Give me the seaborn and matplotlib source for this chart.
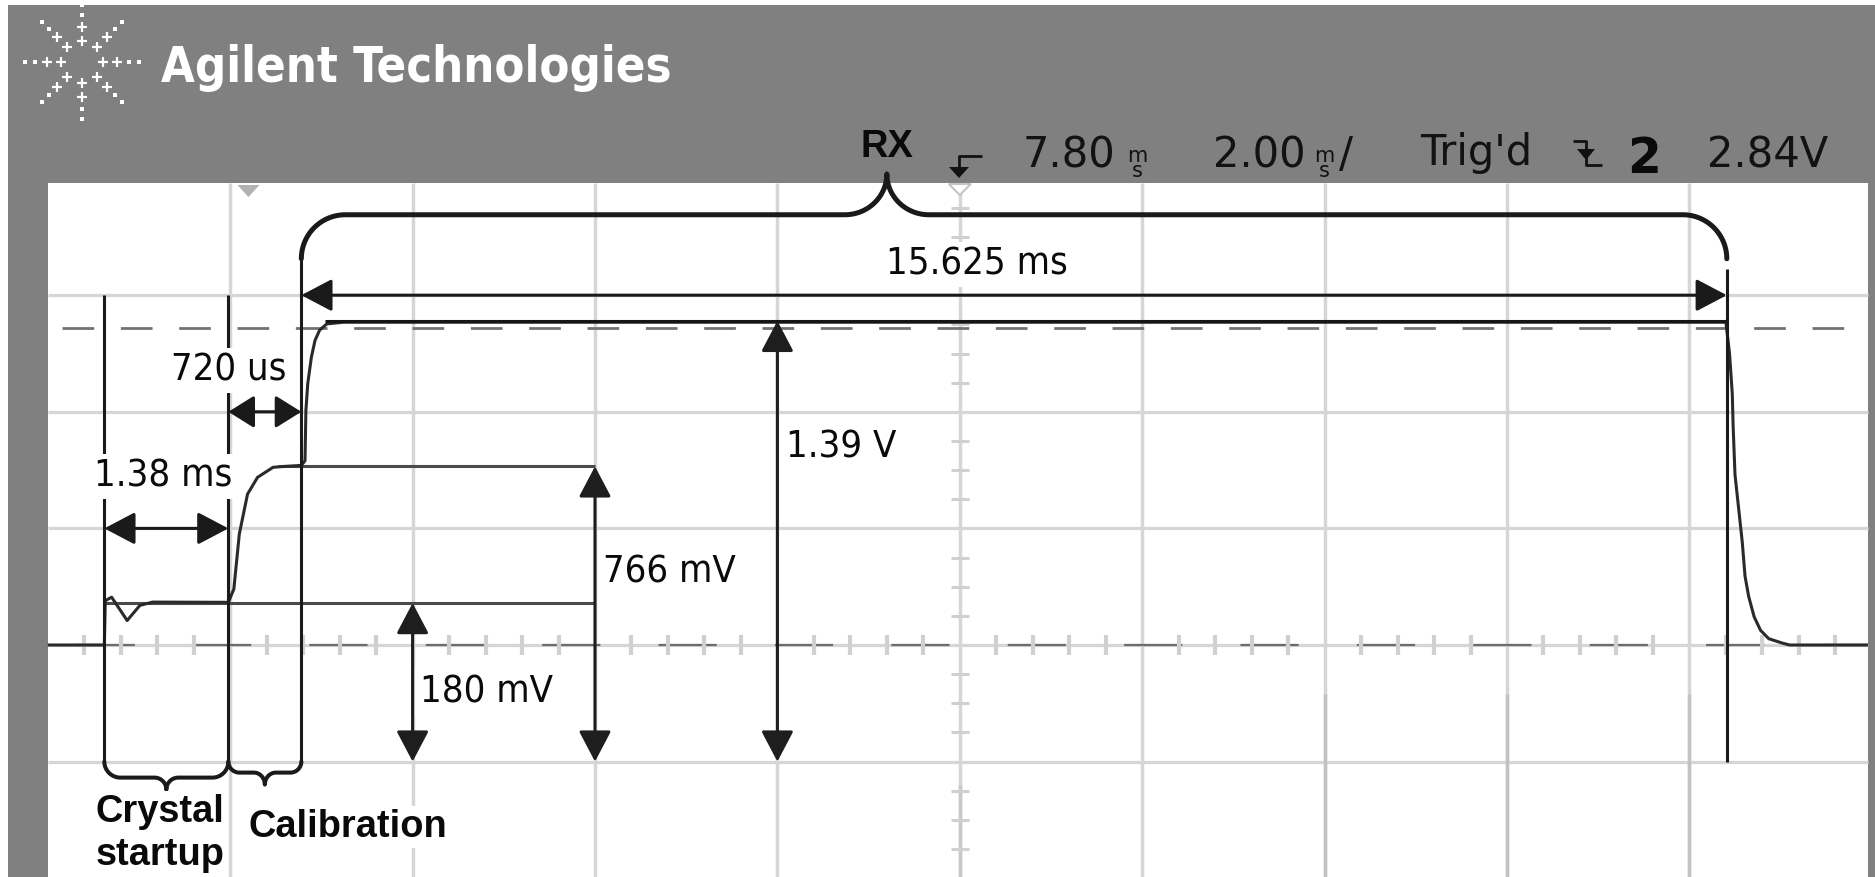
import numpy as np
import pandas as pd
import matplotlib
matplotlib.use("Agg")
import matplotlib.pyplot as plt
import seaborn as sns
from matplotlib import font_manager as fm
from matplotlib.patches import FancyArrowPatch, Rectangle, Polygon
from matplotlib.transforms import Affine2D
from matplotlib.textpath import TextPath

sns.set_theme(style="white")
plt.rcParams["font.family"] = ["DejaVu Sans"]
plt.rcParams["lines.scale_dashes"] = False
plt.rcParams["lines.solid_capstyle"] = "butt"

# ------------------------------------------------------------------ data
# oscilloscope trace (time in ms, volts)
trace_t = [0.00, 0.62, 0.63, 0.70, 0.87, 1.01, 1.15, 1.98, 2.04, 2.10,
           2.19, 2.30, 2.47, 2.60, 2.78, 2.82, 2.83, 2.85, 2.89, 2.93,
           2.98, 3.06, 3.24, 18.40, 18.44, 18.47, 18.48, 18.50, 18.54, 18.58,
           18.61, 18.65, 18.71, 18.78, 18.87, 19.02, 19.10, 19.96]
trace_v = [0.00, 0.00, 0.19, 0.205, 0.105, 0.17, 0.184, 0.183, 0.24, 0.476,
           0.647, 0.719, 0.762, 0.766, 0.77, 0.79, 1.005, 1.12, 1.234, 1.306,
           1.35, 1.377, 1.384, 1.384, 1.25, 1.078, 0.933, 0.730, 0.585, 0.440,
           0.295, 0.208, 0.121, 0.063, 0.027, 0.008, 0.0, 0.0]

# phase markers (ms): crystal on, calibration start, RX start, RX end
marker_t = [0.62, 1.98, 2.78, 18.41]
span_labels = ["1.38 ms", "720 us", "15.625 ms"]
span_levels = [0.5, 1.0, 1.5]

# signal levels (V)
level_v = [0.18, 0.766, 1.39]
level_labels = ["180 mV", "766 mV", "1.39 V"]
level_arrow_t = [4.0, 6.0, 8.0]
level_start_t = [0.62, 2.52, 3.04]
level_end_t = [6.0, 6.0, 18.41]
arrow_base_v = -0.5
ref_dash_v = 1.36

phase_labels = ["Crystal\nstartup", "Calibration", "RX"]

# scope settings
time_per_div = 2.0      # ms/div
volt_per_div = 0.5      # V/div
n_xdiv = 10
trig_marker_t = 2.2
hdr_delay = "7.80"
hdr_timebase = "2.00"
hdr_state = "Trig'd"
hdr_channel = "2"
hdr_level = "2.84V"
brand = "Agilent Technologies"

# ------------------------------------------------------------------ fonts
def wnum(w):
    if isinstance(w, str):
        return fm.weight_dict.get(w, 400)
    return int(w)


PREF = ["Liberation Sans Narrow", "DejaVu Sans", "Noto Sans", "Open Sans",
        "Roboto", "Lato", "Inter"]


def find_condensed(bold):
    best, best_score = None, 1e9
    for f in fm.fontManager.ttflist:
        nm = f.name
        if any(s in nm for s in ("Mono", "Serif", "CJK", "Math")):
            continue
        cond = (str(f.stretch) in ("condensed", "semi-condensed", "extra-condensed",
                                   "ultra-condensed")
                or "Narrow" in nm or "Condensed" in nm)
        if not cond or f.style != "normal":
            continue
        w = wnum(f.weight)
        if bold and not (600 <= w <= 800):
            continue
        if not bold and not (350 <= w <= 500):
            continue
        score = next((i for i, p in enumerate(PREF) if nm.startswith(p)), 50)
        if "semi" in str(f.stretch):
            score += 0.5
        if score < best_score:
            best, best_score = f, score
    if best is None:
        return fm.FontProperties(family="Liberation Sans",
                                 weight="bold" if bold else "normal")
    return fm.FontProperties(fname=best.fname)


FP_REG = find_condensed(False)
FP_BOLDC = find_condensed(True)


def fit_size(text, fp, w_px, cap_px):
    ext = TextPath((0, 0), text, size=100, prop=fp).get_extents()
    capx = TextPath((0, 0), "H", size=100, prop=fp).get_extents()
    k = 100 / 72.0 / 100.0          # px per (unit at size 1 pt)
    s_w = w_px / (ext.width * k)
    s_h = cap_px / (capx.height * k)
    return min(s_w, s_h)


lab_size = fit_size("15.625 ms", FP_REG, 176, 33)
brand_size = fit_size(brand, FP_BOLDC, 509, 42)
BOLD = "Liberation Sans"
HDR = "DejaVu Sans"

# ------------------------------------------------------------------ figure
W, H = 1875, 877
fig = plt.figure(figsize=(W / 100, H / 100), dpi=100)
fig.patch.set_facecolor("#808080")
ax = fig.add_axes([0, 0, 1, 1])
ax.set_axis_off()

px_per_ms = 91.2
px_per_v = 233.2
X0 = -47.8 / px_per_ms
X1 = X0 + W / px_per_ms
Y0 = -(H - 645.0) / px_per_v
Y1 = Y0 + H / px_per_v
sx = 1 / px_per_ms
sy = 1 / px_per_v

px = Affine2D().scale(1 / W, -1 / H).translate(0, 1) + fig.transFigure

screen_right = n_xdiv * time_per_div - 0.04
screen_top = 1.981

# white borders of the slide + scope screen
ax.add_patch(Rectangle((0, 0), 8, H, transform=px, fc="white", ec="none", zorder=0))
ax.add_patch(Rectangle((0, 0), W, 5, transform=px, fc="white", ec="none", zorder=0))
ax.add_patch(Rectangle((0, Y0), screen_right, screen_top - Y0, fc="white", ec="none", zorder=0.5))

# grid
vx = [time_per_div * k for k in range(1, n_xdiv)]
ax.vlines(vx, Y0, screen_top, color="#d6d6d6", lw=2.5, zorder=1)
hy = [volt_per_div * k for k in range(-1, 4)]
ax.hlines(hy, 0, screen_right, color="#d6d6d6", lw=2.3, zorder=1)
# slightly darker lower parts of some graticule lines
ax.vlines([14.0, 16.0, 18.0], Y0, -0.21, color="#c2c2c2", lw=2.5, zorder=1.1)
ax.vlines([10.0], Y0, -0.60, color="#c8c8c8", lw=2.5, zorder=1.1)

# darker dashes on the zero line and reference dashed line
ax.plot([0, screen_right], [0, 0], color="#6c6c6c", lw=1.6,
        ls=(63.2, (41.9, 41.9)), zorder=1.6)
ax.plot([0, screen_right], [ref_dash_v, ref_dash_v], color="#727272", lw=2.0,
        ls=(31.9, (22.8, 19.2)), zorder=1.6)

# minor ticks on centre axes
xt = [time_per_div / 5 * k for k in range(1, 5 * n_xdiv) if k % 5 != 0]
ax.vlines(xt, -0.041, 0.041, color="#d0d0d0", lw=3.0, zorder=1.7)
yt = [volt_per_div / 4 * k for k in range(-7, 16) if k % 4 != 0]
tc = n_xdiv * time_per_div / 2
ax.hlines(yt, tc - 0.1, tc + 0.1, color="#d0d0d0", lw=2.2, zorder=1.7)


def tpx(t):
    return (t - X0) * px_per_ms


# trigger markers at top of screen
tx = tpx(trig_marker_t)
ax.add_patch(Polygon([(tx - 11, 185), (tx + 11, 185), (tx, 197)], closed=True,
                     transform=px, fc="#b2b2b2", ec="none", zorder=2))
cx = tpx(tc)
ax.add_patch(Polygon([(cx - 11, 184), (cx + 11, 184), (cx, 195)], closed=True,
                     transform=px, fc="white", ec="#c4c4c4", lw=1.5, zorder=2))

# level lines
level_cols = ["#4a4a4a", "#4a4a4a", "#151515"]
level_z = [2.9, 2.9, 3.5]
for v, a, b, c, z in zip(level_v, level_start_t, level_end_t, level_cols, level_z):
    ax.hlines(v, a, b, color=c, lw=2.2, zorder=z)

# trace (seaborn)
df = pd.DataFrame({"t": trace_t, "v": trace_v})
sns.lineplot(data=df, x="t", y="v", sort=False, estimator=None,
             color="#2a2a2a", lw=2.2, ax=ax, zorder=3)

# vertical marker lines
brace_y0 = 1.845
R_top = 44
rx_end_top = brace_y0 - R_top * sy
ax.vlines(marker_t[0], arrow_base_v, span_levels[2], color="k", lw=2.2, zorder=4)
ax.vlines(marker_t[1], arrow_base_v, span_levels[2], color="k", lw=2.2, zorder=4)
ax.vlines(marker_t[2], arrow_base_v, rx_end_top, color="k", lw=2.2, zorder=4)
ax.vlines(marker_t[3], arrow_base_v, rx_end_top - 10 * sy, color="k", lw=2.2, zorder=4)


def darrow(p0, p1, hl=19, hw=10, color="k"):
    a = FancyArrowPatch(p0, p1, arrowstyle=f"<|-|>,head_length={hl},head_width={hw}",
                        mutation_scale=1, lw=2.2, color=color, shrinkA=0, shrinkB=0,
                        zorder=6)
    ax.add_patch(a)


darrow((marker_t[0], span_levels[0]), (marker_t[1], span_levels[0]))
darrow((marker_t[1], span_levels[1]), (marker_t[2], span_levels[1]), hl=16, hw=10)
darrow((marker_t[2], span_levels[2]), (marker_t[3], span_levels[2]))
for t, v in zip(level_arrow_t, level_v):
    darrow((t, v), (t, arrow_base_v), color="#1e1e1e")


# braces
def brace_top(t0, t1, y0, tip_t, tip_y, R, w):
    th = np.linspace(np.pi, np.pi / 2, 30)
    xs = list(t0 + R * sx + R * sx * np.cos(th))
    ys = list(y0 - R * sy + R * sy * np.sin(th))
    ph = np.linspace(0, np.pi / 2, 30)
    xs += list(tip_t - w * sx + w * sx * np.sin(ph))
    ys += list(tip_y - (tip_y - y0) * np.cos(ph))
    xs += list(tip_t + w * sx - w * sx * np.sin(ph[::-1]))
    ys += list(tip_y - (tip_y - y0) * np.cos(ph[::-1]))
    th2 = np.linspace(np.pi / 2, 0, 30)
    xs += list(t1 - R * sx + R * sx * np.cos(th2))
    ys += list(y0 - R * sy + R * sy * np.sin(th2))
    return xs, ys


def brace_bot(t0, t1, ytop, depth, tip_depth, R, w):
    y0 = ytop - depth * sy
    tip_y = y0 - tip_depth * sy
    tip_t = (t0 + t1) / 2
    th = np.linspace(np.pi, 1.5 * np.pi, 20)
    xs = list(t0 + R * sx + R * sx * np.cos(th))
    ys = list(y0 + R * sy + R * sy * np.sin(th))
    ph = np.linspace(0, np.pi / 2, 20)
    xs += list(tip_t - w * sx + w * sx * np.sin(ph))
    ys += list(tip_y + (y0 - tip_y) * np.cos(ph))
    xs += list(tip_t + w * sx - w * sx * np.sin(ph[::-1]))
    ys += list(tip_y + (y0 - tip_y) * np.cos(ph[::-1]))
    th2 = np.linspace(1.5 * np.pi, 2 * np.pi, 20)
    xs += list(t1 - R * sx + R * sx * np.cos(th2))
    ys += list(y0 + R * sy + R * sy * np.sin(th2))
    return xs, ys


bx, by = brace_top(marker_t[2], marker_t[3], brace_y0, 9.2, 2.02, R_top, 42)
ax.plot(bx, by, color="k", lw=3.6, solid_capstyle="round", solid_joinstyle="round", zorder=4)
bx, by = brace_bot(marker_t[0], marker_t[1], arrow_base_v, 16, 12, 16, 12)
ax.plot(bx, by, color="k", lw=2.9, solid_capstyle="round", zorder=4)
bx, by = brace_bot(marker_t[1], marker_t[2], arrow_base_v, 11, 12, 11, 11)
ax.plot(bx, by, color="k", lw=2.9, solid_capstyle="round", zorder=4)

# labels on screen
box = dict(boxstyle="square,pad=0.12", fc="white", ec="none")
lab = dict(fontproperties=FP_REG, color="#0a0a0a", ha="center", va="baseline",
           bbox=box, zorder=5)
for (x, y), s in zip([(1.263, 0.678), (1.987, 1.136), (10.19, 1.587)], span_labels):
    t_ = ax.text(x, y, s, **lab)
    t_.set_fontsize(lab_size)
for (x, y), s in zip([(4.81, -0.247), (6.82, 0.270), (8.70, 0.806)], level_labels):
    t_ = ax.text(x, y, s, **lab)
    t_.set_fontsize(lab_size)

bl = dict(family=BOLD, weight="bold", size=27.4, color="#0a0a0a", ha="center",
          va="baseline", zorder=5,
          bbox=dict(boxstyle="square,pad=0.08", fc="white", ec="none"))
c1, c2 = phase_labels[0].split("\n")
ax.text(1.23, -0.759, c1, **bl)
ax.text(1.23, -0.943, c2, **bl)
ax.text(3.29, -0.823, phase_labels[1], **bl)

# ------------------------------------------------------------------ header
ax.text(887, 157, phase_labels[2], transform=px, family=BOLD, weight="bold",
        size=27.4, color="#0a0a0a", ha="center", va="baseline", zorder=6)
hk = dict(transform=px, family=HDR, size=30, color="#121212", va="baseline", zorder=6)
sk = dict(transform=px, family=HDR, size=15, color="#121212", va="top", ha="center",
          linespacing=0.68, zorder=6)
ax.text(1023, 167, hdr_delay, **hk)
ax.text(1137, 146, "m\ns", **sk)
ax.text(1213, 167, hdr_timebase, **hk)
ax.text(1324, 146, "m\ns", **sk)
ax.text(1339, 167, "/", **hk)
ax.text(1420, 165, hdr_state, **hk)
ax.text(1627, 173, hdr_channel, transform=px, family=HDR, weight="bold", size=35,
        color="#0a0a0a", va="baseline", zorder=6)
ax.text(1707, 167, hdr_level, **hk)

# small header glyphs (delay reference arrow and falling slope)
ax.plot([959, 959, 982], [169, 156, 156], transform=px, color="#121212", lw=2.0, zorder=6)
ax.add_patch(Polygon([(949, 167), (969, 167), (959, 178)], closed=True, transform=px,
                     fc="#121212", ec="none", zorder=6))
ax.plot([1573, 1586, 1586, 1602], [141, 141, 165, 165], transform=px,
        color="#121212", lw=2.0, zorder=6)
ax.add_patch(Polygon([(1577, 149), (1595, 149), (1586, 160)], closed=True, transform=px,
                     fc="#121212", ec="none", zorder=6))

# brand
bt = ax.text(161, 82, brand, transform=px, color="white", va="baseline", ha="left",
             fontproperties=FP_BOLDC, zorder=6)
bt.set_fontsize(brand_size)
lc = (82, 62)
plus_x, plus_y, dot_x, dot_y = [], [], [], []
for k in range(8):
    a = k * np.pi / 4
    for r in (21, 35):
        plus_x.append(lc[0] + r * np.cos(a))
        plus_y.append(lc[1] - r * np.sin(a))
    for r in (47, 57):
        dot_x.append(lc[0] + r * np.cos(a))
        dot_y.append(lc[1] - r * np.sin(a))
ax.plot(plus_x, plus_y, ls="none", marker="+", ms=6.5, mew=1.6, color="white",
        transform=px, zorder=6)
ax.plot(dot_x, dot_y, ls="none", marker="s", ms=2.4, mew=0, color="white",
        transform=px, zorder=6)

ax.set_xlim(X0, X1)
ax.set_ylim(Y0, Y1)
fig.savefig("out.png", dpi=100, facecolor=fig.get_facecolor())
